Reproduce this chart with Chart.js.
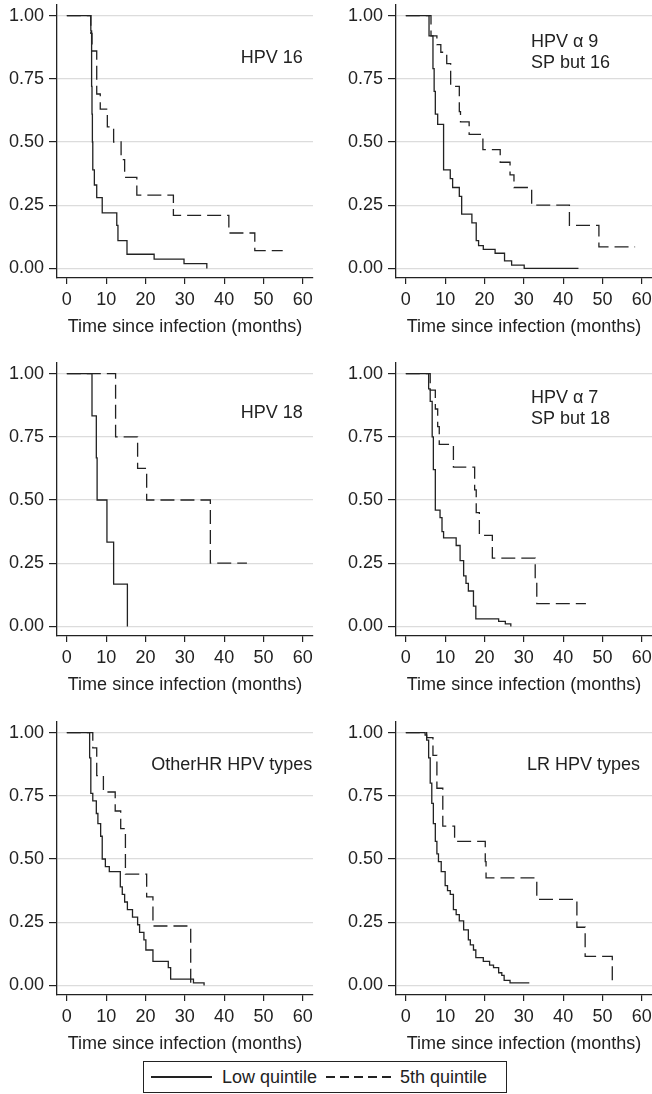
<!DOCTYPE html>
<html>
<head>
<meta charset="utf-8">
<script src="https://cdn.jsdelivr.net/npm/chart.js@4/dist/chart.umd.min.js"></script>
<style>
  body { margin: 0; background: #fff; }
  #wrap { position: relative; width: 652px; height: 1094px; font-family: "Liberation Sans", Arial, sans-serif; color: #222; }
  #wrap canvas { position: absolute; }
  #legend { position: absolute; left: 143px; top: 1061px; width: 364px; height: 32px; box-sizing: border-box;
    border: 1px solid #222; display: flex; align-items: center; font-size: 18px; }
  .sw { display: inline-block; height: 1.4px; }
</style>
</head>
<body>
<div id="wrap">
  <canvas id="p1" width="326" height="340" style="left:0;top:0"></canvas>
  <canvas id="p2" width="326" height="340" style="left:326px;top:0"></canvas>
  <canvas id="p3" width="326" height="340" style="left:0;top:358px"></canvas>
  <canvas id="p4" width="326" height="340" style="left:326px;top:358px"></canvas>
  <canvas id="p5" width="326" height="340" style="left:0;top:717px"></canvas>
  <canvas id="p6" width="326" height="340" style="left:326px;top:717px"></canvas>
  <div id="legend">
    <span class="sw" style="width:61px;margin-left:7px;background:#222"></span>
    <span style="margin-left:10px">Low quintile</span>
    <span class="sw" style="width:66px;margin-left:9px;background:repeating-linear-gradient(90deg,#222 0 9px,transparent 9px 14px)"></span>
    <span style="margin-left:8px">5th quintile</span>
  </div>
</div>
<script>
// ticks
const xTicks = [0, 10, 20, 30, 40, 50, 60];
const yTicks = [0, 0.25, 0.5, 0.75, 1];

// HPV 16
const hpv16LowT = [6.1, 6.3, 6.4, 6.5, 6.6, 7.0, 7.6, 9.0, 12.7, 13.0, 15.3, 22.2, 29.8, 35.6];
const hpv16LowS = [0.94, 0.72, 0.61, 0.50, 0.39, 0.33, 0.28, 0.22, 0.17, 0.11, 0.056, 0.037, 0.019, 0];
const hpv16HighT = [6.1, 6.4, 7.6, 8.5, 10.3, 11.9, 13.8, 14.7, 17.8, 27.1, 41.2, 47.8];
const hpv16HighS = [0.93, 0.86, 0.69, 0.63, 0.56, 0.50, 0.43, 0.36, 0.29, 0.21, 0.14, 0.07];
const hpv16HighEnd = 54.9;

// HPV alpha 9 but 16
const a9LowT = [5.9, 6.9, 7.2, 7.5, 8.1, 9.6, 11.3, 11.9, 13.6, 14.2, 16.8, 17.9, 18.5, 19.7, 22.7, 25.1, 26.9, 30.1];
const a9LowS = [0.92, 0.79, 0.70, 0.61, 0.57, 0.39, 0.355, 0.32, 0.285, 0.215, 0.18, 0.11, 0.09, 0.075, 0.06, 0.03, 0.013, 0];
const a9LowEnd = 43.9;
const a9HighT = [6.4, 7.9, 8.9, 10.4, 11.4, 13.6, 13.9, 16.1, 19.6, 24.0, 26.5, 27.5, 32.0, 41.6, 49.1];
const a9HighS = [0.92, 0.885, 0.855, 0.81, 0.72, 0.62, 0.58, 0.53, 0.47, 0.42, 0.37, 0.32, 0.25, 0.17, 0.085];
const a9HighEnd = 58.3;

// HPV 18
const hpv18LowT = [6.4, 7.5, 7.7, 10.2, 11.9, 15.4];
const hpv18LowS = [0.833, 0.667, 0.5, 0.333, 0.167, 0];
const hpv18HighT = [12.4, 18.0, 20.3, 36.5];
const hpv18HighS = [0.75, 0.625, 0.5, 0.25];
const hpv18HighEnd = 45.8;

// HPV alpha 7 but 18
const a7LowT = [5.8, 6.2, 6.7, 7.0, 7.5, 8.7, 9.2, 9.6, 12.8, 13.8, 14.7, 15.3, 15.9, 17.2, 17.8, 23.6, 25.3, 26.7];
const a7LowS = [0.94, 0.89, 0.75, 0.62, 0.46, 0.43, 0.375, 0.35, 0.32, 0.26, 0.20, 0.17, 0.14, 0.08, 0.03, 0.02, 0.01, 0];
const a7HighT = [6.2, 7.5, 8.1, 8.5, 12.1, 17.5, 17.9, 18.7, 22.0, 32.9, 33.3];
const a7HighS = [0.935, 0.86, 0.79, 0.72, 0.63, 0.54, 0.45, 0.36, 0.27, 0.18, 0.09];
const a7HighEnd = 45.8;

// other HR
const ohrLowT = [5.8, 6.1, 6.6, 7.5, 7.9, 8.6, 9.0, 9.8, 10.8, 13.6, 14.1, 14.7, 15.4, 16.7, 18.0, 18.5, 19.6, 20.1, 21.9, 25.8, 26.4, 32.2, 34.9];
const ohrLowS = [0.90, 0.76, 0.73, 0.68, 0.64, 0.59, 0.50, 0.47, 0.45, 0.39, 0.36, 0.33, 0.30, 0.27, 0.24, 0.21, 0.18, 0.14, 0.095, 0.07, 0.025, 0.01, 0];
const ohrHighT = [6.6, 7.6, 9.3, 12.3, 13.7, 14.9, 20.3, 21.9, 31.5];
const ohrHighS = [0.94, 0.83, 0.765, 0.69, 0.62, 0.44, 0.35, 0.235, 0];

// LR
const lrLowT = [4.9, 5.3, 5.8, 6.2, 6.6, 7.0, 7.5, 7.9, 8.3, 9.0, 10.0, 10.6, 11.3, 12.1, 12.8, 13.6, 14.7, 15.9, 16.4, 17.2, 17.8, 19.7, 21.3, 22.3, 23.6, 24.4, 25.0, 26.5];
const lrLowS = [0.99, 0.97, 0.90, 0.80, 0.72, 0.64, 0.57, 0.52, 0.49, 0.45, 0.395, 0.375, 0.36, 0.30, 0.28, 0.255, 0.22, 0.18, 0.16, 0.14, 0.11, 0.095, 0.08, 0.07, 0.05, 0.04, 0.02, 0.01];
const lrLowEnd = 31.4;
const lrHighT = [5.3, 6.9, 7.9, 9.4, 12.4, 20.2, 20.4, 33.3, 43.5, 45.6, 52.5];
const lrHighS = [0.98, 0.91, 0.78, 0.63, 0.57, 0.49, 0.425, 0.34, 0.23, 0.115, 0];

Chart.defaults.font.family = '"Liberation Sans", Arial, sans-serif';
Chart.defaults.font.size = 18;
Chart.defaults.color = '#222';

const ink = '#222';

function km(times, surv, end) {
    const pts = [{x: 0, y: 1}];
    for (let i = 0; i < times.length; i++) {
        pts.push({x: times[i], y: surv[i]});
    }
    if (end != null) pts.push({x: end, y: surv[surv.length - 1]});
    return pts;
}

// text inside a panel, anchored on data coords
const panelLabel = {
    id: 'panelLabel',
    afterDatasetsDraw(chart, args, opts) {
        const ctx = chart.ctx;
        const xs = chart.scales.x, ys = chart.scales.y;
        ctx.save();
        ctx.font = '18px "Liberation Sans", Arial, sans-serif';
        ctx.fillStyle = ink;
        ctx.textAlign = opts.align;
        ctx.textBaseline = 'middle';
        opts.lines.forEach((line, i) => {
            ctx.fillText(line, xs.getPixelForValue(opts.x), ys.getPixelForValue(opts.y[i]));
        });
        ctx.restore();
    }
};

function panel(id, low, high, label, yWidth, rightPad) {
    new Chart(document.getElementById(id), {
        type: 'line',
        data: {
            datasets: [{
                label: 'Low quintile',
                data: low,
                stepped: 'before',
                borderColor: ink,
                borderWidth: 1.3,
                pointRadius: 0,
                fill: false
            }, {
                label: '5th quintile',
                data: high,
                stepped: 'before',
                borderColor: ink,
                borderWidth: 1.3,
                borderDash: [14, 6],
                pointRadius: 0,
                fill: false
            }]
        },
        options: {
            responsive: false,
            animation: false,
            devicePixelRatio: 1,
            layout: { padding: { top: 5, right: rightPad, left: 0, bottom: 0 } },
            plugins: {
                legend: { display: false },
                tooltip: { enabled: false },
                panelLabel: label
            },
            scales: {
                x: {
                    type: 'linear',
                    min: -2.5,
                    max: 62.6,
                    afterBuildTicks: s => { s.ticks = xTicks.map(v => ({value: v})); },
                    afterFit: s => { s.height = 62; s.paddingLeft = 0; s.paddingRight = 0; },
                    ticks: { color: ink, padding: 5, maxRotation: 0, autoSkip: false },
                    grid: { display: true, drawOnChartArea: false, drawTicks: true, tickLength: 6, tickColor: ink, lineWidth: 1.2 },
                    border: { display: true, color: ink, width: 1.3 },
                    title: { display: true, text: 'Time since infection (months)', color: ink, padding: { top: 0, bottom: 2 } }
                },
                y: {
                    min: -0.038,
                    max: 1.042,
                    afterBuildTicks: s => { s.ticks = yTicks.map(v => ({value: v})); },
                    afterFit: s => { s.width = yWidth; s.paddingTop = 0; s.paddingBottom = 0; },
                    ticks: { color: ink, padding: 5, callback: v => v.toFixed(2) },
                    grid: { color: '#dcdcdc', lineWidth: 1.2, tickColor: ink, tickLength: 8 },
                    border: { display: true, color: ink, width: 1.3 }
                }
            }
        },
        plugins: [panelLabel]
    });
}

panel('p1', km(hpv16LowT, hpv16LowS), km(hpv16HighT, hpv16HighS, hpv16HighEnd),
    { lines: ['HPV 16'], x: 60, y: [0.833], align: 'right' }, 57, 13);
panel('p2', km(a9LowT, a9LowS, a9LowEnd), km(a9HighT, a9HighS, a9HighEnd),
    { lines: ['HPV \u03b1 9', 'SP but 16'], x: 31.8, y: [0.897, 0.813], align: 'left' }, 70, 0);
panel('p3', km(hpv18LowT, hpv18LowS), km(hpv18HighT, hpv18HighS, hpv18HighEnd),
    { lines: ['HPV 18'], x: 60, y: [0.846], align: 'right' }, 57, 13);
panel('p4', km(a7LowT, a7LowS), km(a7HighT, a7HighS, a7HighEnd),
    { lines: ['HPV \u03b1 7', 'SP but 18'], x: 31.8, y: [0.905, 0.822], align: 'left' }, 70, 0);
panel('p5', km(ohrLowT, ohrLowS), km(ohrHighT, ohrHighS),
    { lines: ['OtherHR HPV types'], x: 62.4, y: [0.87], align: 'right' }, 57, 13);
panel('p6', km(lrLowT, lrLowS, lrLowEnd), km(lrHighT, lrHighS),
    { lines: ['LR HPV types'], x: 30.8, y: [0.87], align: 'left' }, 70, 0);
</script>
</body>
</html>
